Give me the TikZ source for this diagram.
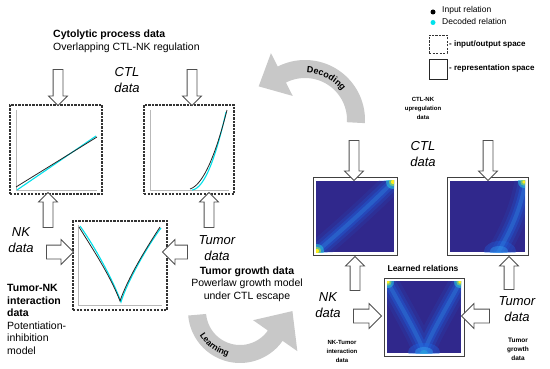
\documentclass[tikz,border=0pt]{standalone}
\usepackage{fontspec}
\setmainfont{Liberation Sans}
\usetikzlibrary{shapes.arrows,decorations.text}
\definecolor{hmdark}{RGB}{48,40,140}
\definecolor{hmb}{RGB}{30,100,225}
\definecolor{hml}{RGB}{50,150,235}
\definecolor{hmc}{RGB}{40,200,220}
\definecolor{hmg}{RGB}{150,220,90}
\definecolor{hmy}{RGB}{250,235,30}
\definecolor{arcgray}{RGB}{200,200,200}
\definecolor{axgray}{RGB}{185,185,185}
\definecolor{dcyan}{RGB}{0,225,235}
\definecolor{arrline}{RGB}{80,80,80}

\newcommand{\glowpath}[1]{%
  \draw[line width=22pt, hmb, opacity=.12] #1;
  \draw[line width=15pt, hmb, opacity=.22] #1;
  \draw[line width=9pt, hmb, opacity=.35] #1;
  \draw[line width=4pt, hml, opacity=.3] #1;}
\newcommand{\hmblob}[2]{%
  \fill[hmc, opacity=.55] #1 circle (#2);
  \fill[hmg, opacity=.65] #1 circle ({0.6*#2});
  \fill[hmy] #1 circle ({0.3*#2});}

\tikzset{
  blockarrow/.style={single arrow, draw=arrline, fill=white, line width=0.8pt, inner xsep=0pt, inner ysep=4.5pt, minimum width=0pt, single arrow head extend=4.5pt},
  wideblock/.style={blockarrow, inner ysep=6.5pt, single arrow head extend=5.5pt},
  iobox/.style={draw=black!80, fill=white, line width=1.1pt, dash pattern=on 2.2pt off 1.3pt, inner sep=0pt},
  hmframe/.style={draw=black!75, fill=white, line width=1pt, inner sep=0pt},
  axisline/.style={axgray, line width=0.7pt},
  datalbl/.style={font=\fontsize{13}{16}\selectfont\itshape, align=center, inner sep=0pt},
  smallbold/.style={font=\fontsize{6}{9}\selectfont\bfseries, align=center, inner sep=0pt},
  bodytxt/.style={font=\fontsize{10.5}{12.6}\selectfont, inner sep=0pt},
  legtxt/.style={font=\fontsize{8.5}{10}\selectfont, inner sep=0pt, anchor=west},
  legbold/.style={font=\fontsize{8}{10}\selectfont\bfseries, inner sep=0pt, anchor=west},
  incurve/.style={black!85, line width=0.8pt},
  outcurve/.style={dcyan, line width=1.1pt},
  arcshape/.style={fill=arcgray, draw=none},
  arctext/.style={decorate, decoration={text along path, text align=center, text={#1}}}
}

\begin{document}
\begin{tikzpicture}[x=1pt,y=-1pt]
\useasboundingbox (0,0) rectangle (550,369);

% ---------- gray cycle arrows ----------
\fill[arcshape] plot[domain=3:-117, samples=50] ({305+60*cos(\x)},{120+60*sin(\x)})
  -- ({305+75*cos(-117)},{120+75*sin(-117)})
  -- ({305+51*cos(-117)+26*sin(-117)},{120+51*sin(-117)-26*cos(-117)})
  -- ({305+27*cos(-117)},{120+27*sin(-117)})
  -- plot[domain=-117:3, samples=50] ({305+42*cos(\x)},{120+42*sin(\x)}) -- cycle;
\path[arctext={|\fontsize{9}{9}\selectfont\bfseries|Decoding}]
  plot[domain=-103:-23, samples=40] ({305+47*cos(\x)},{120+47*sin(\x)});

\fill[arcshape] plot[domain=175:35, samples=50] ({240+52*cos(\x)},{311+52*sin(\x)})
  -- ({240+70*cos(35)},{311+70*sin(35)})
  -- ({240+43*cos(35)+30*sin(35)},{311+43*sin(35)-30*cos(35)})
  -- ({240+16*cos(35)},{311+16*sin(35)})
  -- plot[domain=35:175, samples=50] ({240+34*cos(\x)},{311+34*sin(\x)}) -- cycle;
\path[arctext={|\fontsize{8.5}{9}\selectfont\bfseries|Learning}]
  plot[domain=166:88, samples=40] ({240+47*cos(\x)},{311+47*sin(\x)});

% ---------- left: input/output plots ----------
\node[iobox, minimum width=92pt, minimum height=89pt] (p1) at (56,149.5) {};
\draw[axisline] (16,110) -- (16,190) -- (97,190);
\draw[outcurve] (17,190) -- (96,136);
\draw[incurve] (16,187) -- (97,137);

\node[iobox, minimum width=90pt, minimum height=89pt] (p2) at (189,149.5) {};
\draw[axisline] (150,110) -- (150,190) -- (229,190);
\draw[outcurve] plot[domain=0:1, samples=30] ({192+34*\x},{190-78*(0.05*\x+0.95*\x*\x)});
\draw[incurve] plot[domain=0:1, samples=30] ({190+37*\x},{189-79*(0.15*\x+0.85*\x*\x)});

\node[iobox, minimum width=94pt, minimum height=89pt] (p3) at (120,265.5) {};
\draw[axisline] (78,225) -- (78,305) -- (162,305);
\draw[outcurve] (80,226) .. controls (95,247) and (113,280) .. (121,302)
  .. controls (127,282) and (148,245) .. (161,228);
\draw[incurve] (79,227) .. controls (92,248) and (110,275) .. (120,301)
  .. controls (128,278) and (145,250) .. (160,227);

% ---------- left arrows ----------
\node[blockarrow, rotate=-90, minimum height=36pt] (a1) at (58,85) {};
\node[blockarrow, rotate=-90, minimum height=36pt] (a2) at (192,85) {};
\node[blockarrow, rotate=90, minimum height=35pt] (a3) at (48,212.5) {};
\node[blockarrow, rotate=90, minimum height=35pt] (a4) at (209,212.5) {};
\node[wideblock, minimum height=27pt] (a5) at (56.5,252) {};
\node[wideblock, rotate=180, minimum height=25pt] (a6) at (178.5,252) {};

% ---------- left texts ----------
\node[bodytxt, anchor=west, align=left] (t1) at (53,41)
  {{\bfseries Cytolytic process data}\\Overlapping CTL-NK regulation};
\node[datalbl] (t2) at (127,80) {CTL\\data};
\node[datalbl] (t3) at (21,240.5) {NK\\data};
\node[datalbl] (t4) at (217,248) {Tumor\\data};
\node[bodytxt, align=center] (t5) at (247,284)
  {{\bfseries Tumor growth data}\\Powerlaw growth model\\under CTL escape};
\node[bodytxt, anchor=west, align=left] (t6) at (7,319.5)
  {{\bfseries Tumor-NK}\\{\bfseries interaction}\\{\bfseries data}\\Potentiation-\\inhibition\\model};

% ---------- legend ----------
\node[circle, fill=black, inner sep=0pt, minimum size=5pt] (ld1) at (433,12) {};
\node[legtxt] (lt1) at (442,10) {Input relation};
\node[circle, fill=dcyan, inner sep=0pt, minimum size=5pt] (ld2) at (433,22.5) {};
\node[legtxt] (lt2) at (442,21) {Decoded relation};
\node[iobox, line width=0.9pt, minimum width=18pt, minimum height=18pt] (lb1) at (438,44) {};
\node[legbold] (lt3) at (449,44) {- input/output space};
\node[draw=black!85, line width=0.9pt, inner sep=0pt, minimum width=18pt, minimum height=20pt] (lb2) at (438,69) {};
\node[legbold] (lt4) at (449,68) {- representation space};

% ---------- heatmaps ----------
\node[hmframe, minimum width=84pt, minimum height=77pt] (h1) at (355,216.5) {};
\begin{scope}
  \clip (316,181) rectangle (394,252);
  \fill[hmdark] (316,181) rectangle (394,252);
  \glowpath{(314,254) .. controls (340,232) and (370,205) .. (396,179)}
  \hmblob{(317,251)}{7}
  \hmblob{(393,182)}{7}
\end{scope}

\node[hmframe, minimum width=81pt, minimum height=77pt] (h2) at (487.5,216.5) {};
\begin{scope}
  \clip (450,181) rectangle (525,252);
  \fill[hmdark] (450,181) rectangle (525,252);
  \fill[hmb, opacity=.35] (500,251) ellipse (16 and 10);
  \glowpath{(496,256) .. controls (510,232) and (521,210) .. (526,179)}
  \fill[hml, opacity=.45] (499,251) ellipse (9 and 5);
  \hmblob{(524,182)}{6}
\end{scope}

\node[hmframe, minimum width=80pt, minimum height=78pt] (h3) at (424,317) {};
\begin{scope}
  \clip (387,281) rectangle (461,353);
  \fill[hmdark] (387,281) rectangle (461,353);
  \glowpath{(386,279) .. controls (400,305) and (418,335) .. (424,352) .. controls (430,335) and (448,305) .. (462,279)}
  \fill[hmb, opacity=.4] (424,352) ellipse (16 and 9);
  \fill[hml, opacity=.55] (424,352) ellipse (9 and 5);
  \fill[hmc, opacity=.35] (424,353) ellipse (4 and 3);
  \hmblob{(388,282)}{6}
  \hmblob{(460,282)}{6}
\end{scope}

% ---------- right arrows ----------
\node[blockarrow, rotate=-90, minimum height=40pt] (b1) at (354,158) {};
\node[blockarrow, rotate=-90, minimum height=40pt] (b2) at (488,158) {};
\node[blockarrow, rotate=90, minimum height=34pt] (b3) at (355,276) {};
\node[blockarrow, rotate=90, minimum height=33pt] (b4) at (509,275.5) {};
\node[wideblock, minimum height=28pt] (b5) at (364,316) {};
\node[wideblock, rotate=180, minimum height=28pt] (b6) at (479,316) {};

% ---------- right texts ----------
\node[smallbold] (r1) at (423,108) {CTL-NK\\upregulation\\data};
\node[datalbl] (r2) at (423,154.5) {CTL\\data};
\node[datalbl] (r3) at (328,305) {NK\\data};
\node[datalbl] (r4) at (517,309.5) {Tumor\\data};
\node[font=\fontsize{8.5}{10}\selectfont\bfseries, inner sep=0pt] (r5) at (423,268) {Learned relations};
\node[smallbold] (r6) at (342,351) {NK-Tumor\\interaction\\data};
\node[smallbold, font=\fontsize{6.5}{9}\selectfont\bfseries] (r7) at (518,349) {Tumor\\growth\\data};

\end{tikzpicture}
\end{document}
